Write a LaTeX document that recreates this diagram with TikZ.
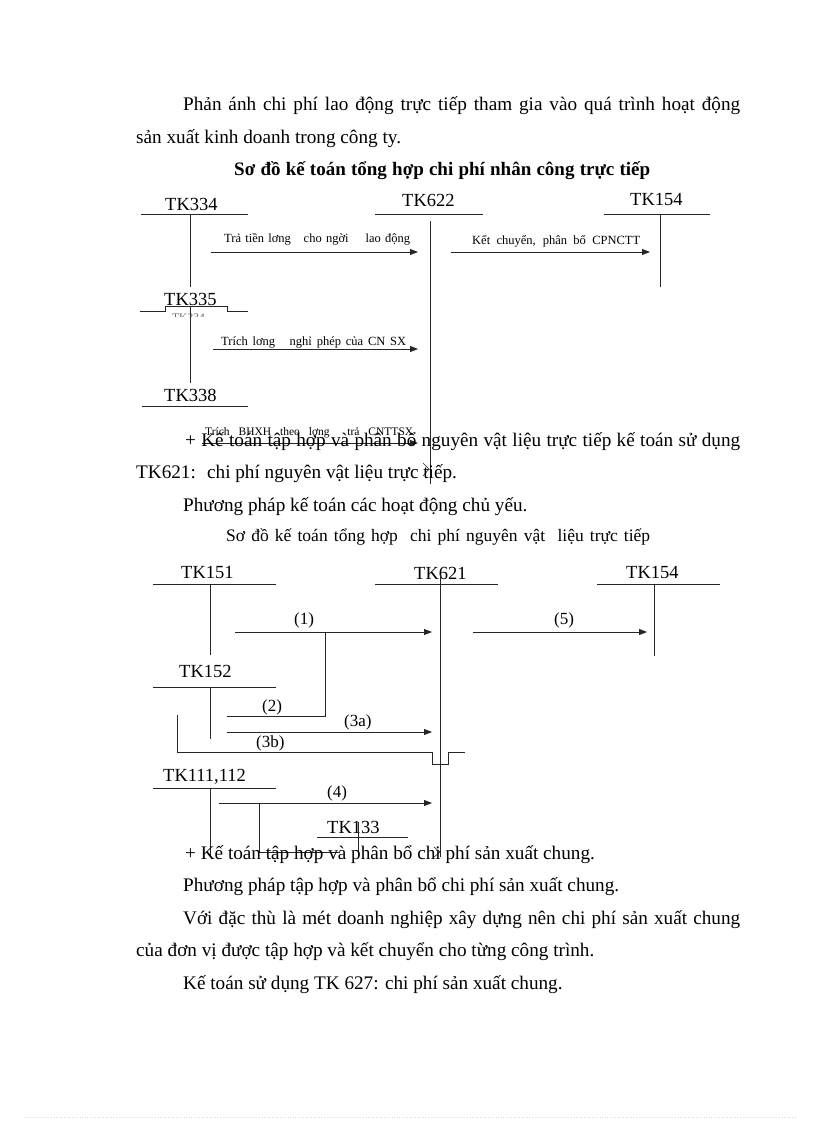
\documentclass[tikz,border=0pt]{standalone}
\usepackage{fontspec}
\setmainfont{Liberation Serif}
\usetikzlibrary{arrows.meta}
\tikzset{
  tk/.style={font=\fontsize{18.5}{20}\selectfont,inner sep=0pt,anchor=base west},
  note/.style={font=\fontsize{12.5}{14}\selectfont,inner sep=0pt,anchor=base west},
  tiny/.style={font=\fontsize{11.5}{12}\selectfont,inner sep=0pt,anchor=base west},
  num/.style={font=\fontsize{17}{18}\selectfont,inner sep=0pt,anchor=base west},
  para/.style={font=\fontsize{19.2}{24}\selectfont,inner sep=0pt,anchor=base west},
  ln/.style={line width=0.8pt,black!85},
  arr/.style={ln,-{Triangle[length=8pt,width=6pt]}}
}
\begin{document}
\begin{tikzpicture}[x=1pt,y=-1pt]
\useasboundingbox (0,0) rectangle (816,1123);
\node[para] (p1) at (183,111) {\makebox[557pt][s]{Phản ánh chi phí lao động trực tiếp tham gia vào quá trình hoạt động}};
\node[para] (p2) at (136,144) {sản xuất kinh doanh trong công ty.};
\node[para,font=\fontsize{19}{22}\selectfont\bfseries] (title1) at (234,176) {\makebox[416pt][s]{Sơ đồ kế toán tổng hợp chi phí nhân công trực tiếp}};

\node[tk] (tk334) at (165,211) {TK334};
\draw[ln] (141,214.5) -- (248,214.5) (190,214.5) -- (190,287);
\node[tk] (tk622) at (402,207) {TK622};
\draw[ln] (375,214.5) -- (483,214.5);
\node[tk] (tk154) at (630,206) {TK154};
\draw[ln] (604,214.5) -- (710,214.5) (660,214.5) -- (660,287);
\node[tk] (tk335) at (164,305) {TK335};
\draw[ln] (140,311) -- (165,311) -- (165,306) -- (227,306) -- (227,311) -- (248,311) (190,306) -- (190,383);
\begin{scope}
\clip (160,308) rectangle (230,316);
\node[tiny,black!60] (tk334b) at (172,321) {TK334};
\end{scope}
\node[tk] (tk338) at (164,401.5) {TK338};
\draw[ln] (142,406) -- (248,406);

\coordinate (t622a) at (430,221);
\coordinate (t622b) at (430,484);
\draw[ln] (t622a) -- (t622b);
\draw[ln,line width=0.6pt] (423,463) -- (429,469) -- (423,476);

\coordinate (a1s) at (211,252);
\coordinate (a1e) at (418,252);
\draw[arr] (a1s) -- (a1e);
\node[note] (n1) at (224,243) {\makebox[186pt][s]{Trả tiền lơng \ \ cho ngời \ \ \ lao động}};
\coordinate (a2s) at (451,252);
\coordinate (a2e) at (650,252);
\draw[arr] (a2s) -- (a2e);
\node[note] (n2) at (472,244.5) {\makebox[168pt][s]{Kết chuyển, phân bổ CPNCTT}};
\coordinate (a3s) at (213,349);
\coordinate (a3e) at (418,349);
\draw[arr] (a3s) -- (a3e);
\node[note] (n3) at (221,345) {\makebox[185pt][s]{Trích lơng \ \ nghỉ phép của CN SX}};
\coordinate (a4s) at (202,443);
\coordinate (a4e) at (418,443);
\draw[arr] (a4s) -- (a4e);
\node[tiny] (n4) at (205,435) {\makebox[208pt][s]{Trích BHXH theo lơng \ trả CNTTSX}};

\node[para] (p3) at (185,446.5) {\makebox[555pt][s]{+ Kế toán tập hợp và phân bổ nguyên vật liệu trực tiếp kế toán sử dụng}};
\node[para] (p4) at (136,478) {TK621: \ chi phí nguyên vật liệu trực tiếp.};
\node[para] (p5) at (183,511) {Phương pháp kế toán các hoạt động chủ yếu.};
\node[para,font=\fontsize{17.5}{20}\selectfont] (title2) at (226,541) {\makebox[424pt][s]{Sơ đồ kế toán tổng hợp \ chi phí nguyên vật \ liệu trực tiếp}};

\node[tk] (tk151) at (181,578) {TK151};
\draw[ln] (153,584) -- (276,584) (210,584) -- (210,655);
\node[tk] (tk621) at (414,579) {TK621};
\draw[ln] (375,584) -- (498,584);
\node[tk] (tk154b) at (626,578) {TK154};
\draw[ln] (597,584) -- (720,584) (654,584) -- (654,656);
\node[tk] (tk152) at (179,677) {TK152};
\draw[ln] (153,687) -- (276,687) (210,687) -- (210,739);
\node[tk] (tk111) at (163,781.5) {TK111,112};
\draw[ln] (153,788) -- (276,788) (210,788) -- (210,856);
\node[tk] (tk133) at (327,833) {TK133};
\draw[ln] (317,837) -- (408,837) (358,822) -- (358,857);

\coordinate (t621a) at (440,575);
\coordinate (t621b) at (440,857);
\draw[ln] (t621a) -- (t621b);
\draw[ln,line width=0.6pt] (434,847) -- (440,852) -- (434,857);

\coordinate (b1s) at (235,632);
\coordinate (b1e) at (432,632);
\coordinate (b1k) at (325,632);
\coordinate (b2s) at (227,716);
\coordinate (b2k) at (325,716);
\draw[arr] (b1s) -- (b1e);
\draw[ln] (b1k) -- (b2k) -- (b2s);
\node[num] (m1) at (294,624) {(1)};
\node[num] (m2) at (262,711) {(2)};
\coordinate (b5s) at (473,632);
\coordinate (b5e) at (647,632);
\draw[arr] (b5s) -- (b5e);
\node[num] (m5) at (554,624) {(5)};
\coordinate (b3s) at (227,732);
\coordinate (b3e) at (432,732);
\draw[arr] (b3s) -- (b3e);
\node[num] (m3a) at (344,726.5) {(3a)};
\coordinate (c3s) at (177,715);
\coordinate (c3e) at (465,752);
\draw[ln] (c3s) |- (432,752) -- (432,764) -- (448,764) -- (448,752) -- (c3e);
\node[num] (m3b) at (256,747.5) {(3b)};
\coordinate (b4s) at (219,803);
\coordinate (b4e) at (432,803);
\coordinate (b4k) at (259,803);
\draw[arr] (b4s) -- (b4e);
\draw[ln] (b4k) -- (259,852) -- (340,852);
\node[num] (m4) at (327,797) {(4)};

\node[para] (p6) at (185,859) {+ Kế toán tập hợp và phân bổ chi phí sản xuất chung.};
\node[para] (p7) at (183,891.5) {Phương pháp tập hợp và phân bổ chi phí sản xuất chung.};
\node[para] (p8) at (183,924) {\makebox[557pt][s]{Với đặc thù là mét doanh nghiệp xây dựng nên chi phí sản xuất chung}};
\node[para] (p9) at (136,956.5) {của đơn vị được tập hợp và kết chuyển cho từng công trình.};
\node[para] (p10) at (183,989) {Kế toán sử dụng TK 627: chi phí sản xuất chung.};

\draw[black!15,line width=0.6pt,dotted] (25,1117) -- (795,1117);
\end{tikzpicture}
\end{document}
